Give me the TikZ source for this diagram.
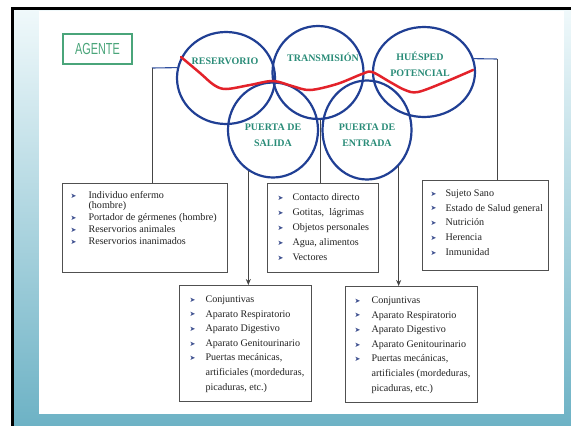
\documentclass[tikz,border=0pt]{standalone}
\usepackage{fontspec}
\setmainfont{Liberation Serif}
\newfontfamily\dejavu{DejaVu Sans}
\newfontfamily\agfont{Liberation Sans}
\usepackage{graphicx}
\usetikzlibrary{shapes.geometric,arrows.meta}
\definecolor{cblue}{HTML}{203F94}
\definecolor{redw}{HTML}{E3222A}
\definecolor{labc}{HTML}{2A8C78}
\definecolor{agc}{HTML}{4AA57A}
\definecolor{bulc}{HTML}{3D4F8F}
\definecolor{txtc}{HTML}{222222}
\definecolor{boxc}{HTML}{505050}
\definecolor{connc}{HTML}{454545}
\definecolor{stubc}{HTML}{2F4F9F}
\definecolor{bgtop}{HTML}{F0F9FB}
\definecolor{bgbot}{HTML}{6DB2C5}
\newlength\bind
\newcommand\bul{{\dejavu\fontsize{7}{7}\selectfont\color{bulc}\raisebox{0.3pt}{➤}}}
\newcommand\li[1]{\makebox[\bind][l]{\bul}\mbox{#1}}
\newcommand\lc[1]{\hspace*{\bind}\mbox{#1}}
\newcommand\blist[7]{\parbox[c][#2][t]{#1}{\setlength\bind{#6}\leftskip=#5\relax\parindent=0pt\baselineskip=#4\relax\lineskiplimit=-20pt\lineskip=0pt\rule{0pt}{#3}#7}}
\begin{document}
\begin{tikzpicture}[x=1pt,y=-1pt,
  circ/.style={ellipse, draw=cblue, line width=2.2pt, inner sep=0pt},
  lab/.style={text=labc, font=\bfseries\fontsize{10}{16}\selectfont, align=center, inner sep=0pt},
  boxst/.style={draw=boxc, line width=1.1pt, inner sep=0pt, anchor=north west, fill=white, font=\fontsize{10.1}{12}\selectfont, text=txtc},
  conn/.style={draw=connc, line width=0.9pt},
  stub/.style={draw=stubc, line width=1.1pt},
  arr/.style={conn, -{Stealth[length=6pt,width=5pt]}}]
\useasboundingbox (0,0) rectangle (571,426);
% background
\fill[white] (0,0) rectangle (571,426);
\shade[top color=bgtop, bottom color=bgbot] (13,9) rectangle (571,426);
\fill[white] (39,10.5) rectangle (564,414);
\draw[black, line width=2.8pt] (12.5,426) -- (12.5,8.5) -- (571,8.5);
% AGENTE
\node[draw=agc, line width=1.2pt, minimum width=69pt, minimum height=30pt, inner sep=0pt, text=agc] (ag) at (97.5,49) {\agfont\fontsize{16}{16}\selectfont\scalebox{0.68}[1]{AGENTE}};
% circles
\node[circ, minimum width=98pt, minimum height=92pt] (res) at (226,78) {};
\node[circ, minimum width=91pt, minimum height=93pt] (tra) at (318,72.5) {};
\node[circ, minimum width=102pt, minimum height=90pt] (hue) at (424,72) {};
\node[circ, minimum width=90pt, minimum height=95pt] (ps) at (273,130) {};
\node[circ, minimum width=89pt, minimum height=99pt] (pe) at (367,130) {};
% boxes
\node[boxst] (box1) at (62,183) {\blist{165pt}{89pt}{15pt}{12pt}{8pt}{18pt}{\li{Individuo enfermo}\\[-2pt]\lc{(hombre)}\\\li{Portador de gérmenes (hombre)}\\\li{Reservorios animales}\\\li{Reservorios inanimados}}};
\node[boxst] (box2) at (267,183) {\blist{111pt}{89pt}{17pt}{15pt}{10pt}{15pt}{\li{Contacto directo}\\\li{Gotitas,\ \ lágrimas}\\\li{Objetos personales}\\\li{Agua, alimentos}\\\li{Vectores}}};
\node[boxst] (box3) at (422,180) {\blist{126pt}{90pt}{16pt}{14.7pt}{8pt}{15pt}{\li{Sujeto Sano}\\\li{Estado de Salud general}\\\li{Nutrición}\\\li{Herencia}\\\li{Inmunidad}}};
\node[boxst] (box4) at (179,285) {\blist{132pt}{116pt}{17pt}{14.6pt}{10pt}{16pt}{\li{Conjuntivas}\\\li{Aparato Respiratorio}\\\li{Aparato Digestivo}\\\li{Aparato Genitourinario}\\\li{Puertas mecánicas,}\\\lc{artificiales (mordeduras,}\\\lc{picaduras, etc.)}}};
\node[boxst] (box5) at (345,286) {\blist{132pt}{116pt}{17pt}{14.6pt}{9pt}{17pt}{\li{Conjuntivas}\\\li{Aparato Respiratorio}\\\li{Aparato Digestivo}\\\li{Aparato Genitourinario}\\\li{Puertas mecánicas,}\\\lc{artificiales (mordeduras,}\\\lc{picaduras, etc.)}}};
% connectors
\coordinate (lc) at (152,68);
\coordinate (rc) at (497,59);
\draw[stub] (res.168) -- (lc);
\draw[conn] (lc) -- (lc |- box1.north);
\draw[stub] (hue.15) -- (rc);
\draw[conn] (rc) -- (rc |- box3.north);
\draw[conn] ([xshift=2.5pt]tra.south) -- ([xshift=2.5pt]tra.south |- box2.north);
\draw[arr] (ps.239) -- (ps.239 |- box4.north);
\draw[arr] (pe.311) -- (pe.311 |- box5.north);
% red wave
\draw[redw, line width=2.5pt, line cap=round] plot[smooth, tension=0.55] coordinates {(181,57) (200,73) (214,85) (226,89) (250,85) (273,81) (292,86) (310,90) (337,84) (362,74) (372,72) (390,82) (405,90) (418,92) (445,82) (473,70)};
% labels
\node[lab] (lres) at (225,61) {RESERVORIO};
\node[lab] (ltra) at (323,57) {TRANSMISIÓN};
\node[lab] (lhue) at (420,64) {HUÉSPED\\POTENCIAL};
\node[lab] (lps) at (273,135) {PUERTA DE\\SALIDA};
\node[lab] (lpe) at (367,135) {PUERTA DE\\ENTRADA};
\end{tikzpicture}
\end{document}
